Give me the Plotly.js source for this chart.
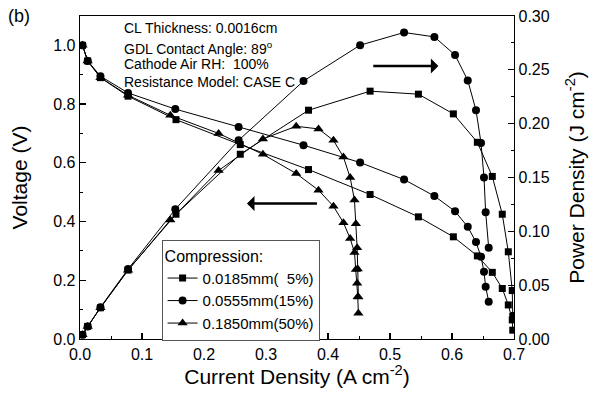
<!DOCTYPE html>
<html>
<head>
<meta charset="utf-8">
<script src="https://cdn.plot.ly/plotly-3.0.1.min.js"></script>
<style>html,body{margin:0;padding:0;background:#fff;}#chart{width:594px;height:395px;}</style>
</head>
<body>
<div id="chart"></div>
<script>
// Series: 0.0185mm (5%) - squares
const currentSq = [0.004, 0.0124, 0.033, 0.0775, 0.1548, 0.2585, 0.3686, 0.4679, 0.5458, 0.6022, 0.6409, 0.665, 0.6811, 0.6908, 0.6972, 0.698];
const voltageSq = [1.0, 0.947, 0.89, 0.827, 0.747, 0.662, 0.577, 0.492, 0.416, 0.348, 0.283, 0.227, 0.172, 0.116, 0.065, 0.03];
const powerSq   = [0.004, 0.0117, 0.029, 0.064, 0.1159, 0.1716, 0.2125, 0.2302, 0.2274, 0.2091, 0.1827, 0.151, 0.1159, 0.081, 0.045, 0.021];

// Series: 0.0555mm (15%) - circles
const currentCi = [0.004, 0.0124, 0.033, 0.0775, 0.1537, 0.2558, 0.3605, 0.4518, 0.5227, 0.5716, 0.6049, 0.6254, 0.6387, 0.6468, 0.6516, 0.6543, 0.6592];
const voltageCi = [1.0, 0.947, 0.895, 0.838, 0.783, 0.722, 0.66, 0.601, 0.543, 0.487, 0.435, 0.382, 0.330, 0.280, 0.229, 0.178, 0.127];
const powerCi   = [0.004, 0.0117, 0.0295, 0.0649, 0.1205, 0.1845, 0.2396, 0.2729, 0.2847, 0.2806, 0.2638, 0.2402, 0.2125, 0.1821, 0.150, 0.1177, 0.0847];

// Series: 0.1850mm (50%) - triangles
const currentTr = [0.004, 0.0124, 0.033, 0.0775, 0.1457, 0.2235, 0.295, 0.3487, 0.3847, 0.4088, 0.4249, 0.4357, 0.4427, 0.445, 0.447, 0.448, 0.449];
const voltageTr = [1.0, 0.947, 0.89, 0.83, 0.762, 0.70, 0.629, 0.5636, 0.5068, 0.452, 0.396, 0.3425, 0.295, 0.237, 0.19, 0.144, 0.088];
const powerTr   = [0.004, 0.0117, 0.029, 0.0639, 0.1105, 0.1565, 0.1858, 0.1976, 0.1951, 0.1845, 0.169, 0.150, 0.129, 0.107, 0.0847, 0.065, 0.039];

const seriesNames = ['0.0185mm(\u00a0\u00a05%)', '0.0555mm(15%)', '0.1850mm(50%)'];
const infoLines = ['CL Thickness: 0.0016cm', 'GDL Contact Angle: 89<sup>o</sup>', 'Cathode Air RH:\u00a0\u00a0100%', 'Resistance Model: CASE C'];

const FONT = 'Liberation Sans, Arial, sans-serif';
const symbols = ['square', 'circle', 'triangle-up'];
const sizes = [7, 8, 9];
const xs = [currentSq, currentCi, currentTr];
const vs = [voltageSq, voltageCi, voltageTr];
const ps = [powerSq, powerCi, powerTr];

const traces = [];
for (let i = 0; i < 3; i++) {
  traces.push({
    x: xs[i], y: vs[i], yaxis: 'y', type: 'scatter', mode: 'lines+markers',
    name: seriesNames[i], legendgroup: 'g' + i,
    line: {color: '#000', width: 1},
    marker: {symbol: symbols[i], size: sizes[i], color: '#000'}
  });
}
for (let i = 0; i < 3; i++) {
  traces.push({
    x: xs[i], y: ps[i], yaxis: 'y2', type: 'scatter', mode: 'lines+markers',
    name: seriesNames[i], legendgroup: 'g' + i, showlegend: false,
    line: {color: '#000', width: 1},
    marker: {symbol: symbols[i], size: sizes[i], color: '#000'}
  });
}

const infoY = [0.963, 0.901, 0.851, 0.796];
const annotations = infoLines.map((t, i) => ({
  text: t, xref: 'paper', yref: 'paper', x: 0.096, y: infoY[i],
  xanchor: 'left', yanchor: 'middle', showarrow: false,
  font: {family: FONT, size: 14, color: '#000'}
}));
annotations.push({
  text: '(b)', xref: 'paper', yref: 'paper', x: -0.14, y: 1.0,
  xanchor: 'center', yanchor: 'middle', showarrow: false,
  font: {family: FONT, size: 18, color: '#000'}
});
// arrows
annotations.push({
  xref: 'x', yref: 'y', axref: 'x', ayref: 'y',
  x: 0.2693, y: 0.4616, ax: 0.3846, ay: 0.4616, text: '',
  showarrow: true, arrowhead: 1, arrowsize: 1, arrowwidth: 2.5, arrowcolor: '#000'
});
annotations.push({
  xref: 'x', yref: 'y', axref: 'x', ayref: 'y',
  x: 0.578, y: 0.9296, ax: 0.4706, ay: 0.9296, text: '',
  showarrow: true, arrowhead: 1, arrowsize: 1, arrowwidth: 2.5, arrowcolor: '#000'
});

const axisCommon = {
  showline: true, linecolor: '#000', linewidth: 1.3,
  ticks: 'inside', ticklen: 6, tickwidth: 1.2, tickcolor: '#000',
  showgrid: false, zeroline: false,
  tickfont: {family: FONT, size: 16, color: '#000'}
};

const layout = {
  width: 594, height: 395,
  margin: {l: 80, r: 80, t: 16, b: 56},
  paper_bgcolor: '#fff', plot_bgcolor: '#fff',
  font: {family: FONT, color: '#000'},
  xaxis: Object.assign({}, axisCommon, {
    range: [0, 0.7], dtick: 0.1, tick0: 0, tickformat: '.1f', mirror: true,
    minor: {dtick: 0.05, ticks: 'inside', ticklen: 3, tickwidth: 1, tickcolor: '#000'},
    title: {text: 'Current Density (A cm<sup>-2</sup>)', font: {family: FONT, size: 21, color: '#000'}, standoff: 4}
  }),
  yaxis: Object.assign({}, axisCommon, {
    range: [0, 1.1], dtick: 0.2, tick0: 0, tickformat: '.1f',
    minor: {dtick: 0.1, ticks: 'inside', ticklen: 3, tickwidth: 1, tickcolor: '#000'},
    title: {text: 'Voltage (V)', font: {family: FONT, size: 21, color: '#000'}, standoff: 20}
  }),
  yaxis2: Object.assign({}, axisCommon, {
    overlaying: 'y', side: 'right',
    range: [0, 0.30], dtick: 0.05, tick0: 0, tickformat: '.2f',
    minor: {dtick: 0.025, ticks: 'inside', ticklen: 3, tickwidth: 1, tickcolor: '#000'},
    title: {text: 'Power Density (J cm<sup>-2</sup>)', font: {family: FONT, size: 21, color: '#000'}, standoff: 20}
  }),
  showlegend: true,
  legend: {
    x: 0.188, y: 0.3065, xanchor: 'left', yanchor: 'top',
    bgcolor: '#fff', bordercolor: '#555', borderwidth: 1,
    font: {family: FONT, size: 15, color: '#000'},
    title: {text: 'Compression:', font: {family: FONT, size: 16, color: '#000'}},
    tracegroupgap: 0, itemwidth: 30, entrywidth: 165
  },
  annotations: annotations
};

Plotly.newPlot('chart', traces, layout, {displayModeBar: false, staticPlot: true});
</script>
</body>
</html>
